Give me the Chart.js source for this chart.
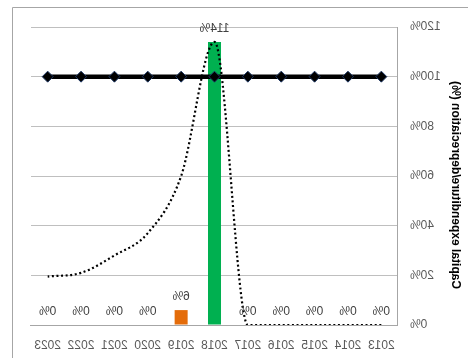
<!DOCTYPE html>
<html>
<head>
<meta charset="utf-8">
<script src="https://cdn.jsdelivr.net/npm/chart.js@4/dist/chart.umd.min.js"></script>
<style>
  html, body { margin: 0; padding: 0; background: #ffffff; }
  #wrap { position: relative; width: 468px; height: 358px; }
  #c { transform: scaleX(-1); }
</style>
</head>
<body>
<div id="wrap"><canvas id="c" width="468" height="358"></canvas></div>
<script>
// Data read from the (mirrored) reference picture
const years = ['2013','2014','2015','2016','2017','2018','2019','2020','2021','2022','2023'];
const capexBars = [0, 0, 0, 0, 0, 114, 6, 0, 0, 0, 0];
const barColors = ['#00B050','#00B050','#00B050','#00B050','#00B050','#00B050','#E46C0A','#E46C0A','#E46C0A','#E46C0A','#E46C0A'];
const dottedTrend = [0, 0, 0, 0, 0, 114, 60, 37, 28, 21, 19.5];
const reference100 = [100, 100, 100, 100, 100, 100, 100, 100, 100, 100, 100];
const yTicks = [0, 20, 40, 60, 80, 100, 120];
const yTitle = 'Capital expenditure/depreciation (%)';

const FONT = 'Liberation Sans, Arial, sans-serif';

const framePlugin = {
  id: 'frame',
  beforeDraw(chart) {
    const ctx = chart.ctx;
    ctx.save();
    ctx.strokeStyle = '#a6a6a6';
    ctx.lineWidth = 1;
    ctx.beginPath();
    ctx.moveTo(0, 7.5);
    ctx.lineTo(455.5, 7.5);
    ctx.lineTo(455.5, chart.height);
    ctx.stroke();
    ctx.restore();
  },
  afterDraw(chart) {
    // y-axis title, centred slightly below the plot's middle as in the reference
    const ctx = chart.ctx;
    const area = chart.chartArea;
    ctx.save();
    ctx.font = 'bold 12px ' + FONT;
    ctx.fillStyle = '#000000';
    ctx.textAlign = 'center';
    ctx.textBaseline = 'middle';
    ctx.translate(13, (area.top + area.bottom) / 2 + 9);
    ctx.rotate(-Math.PI / 2);
    ctx.fillText(yTitle, 0, 0);
    ctx.restore();
  }
};

const barLabelPlugin = {
  id: 'barLabels',
  afterDatasetsDraw(chart) {
    const idx = chart.data.datasets.findIndex(d => d.type === 'bar');
    const meta = chart.getDatasetMeta(idx);
    const ctx = chart.ctx;
    ctx.save();
    ctx.font = '12px ' + FONT;
    ctx.fillStyle = '#404040';
    ctx.textAlign = 'center';
    ctx.textBaseline = 'middle';
    meta.data.forEach((bar, i) => {
      const v = chart.data.datasets[idx].data[i];
      ctx.fillText(v + '%', bar.x, bar.y - 13);
    });
    ctx.restore();
  }
};

new Chart(document.getElementById('c'), {
  data: {
    labels: years,
    datasets: [
      {
        type: 'line',
        label: '100%',
        data: reference100,
        borderColor: '#000000',
        borderWidth: 4.5,
        pointStyle: 'rectRot',
        pointRadius: 5.5,
        pointBackgroundColor: '#000000',
        pointBorderColor: '#1f3864',
        pointBorderWidth: 1,
        order: 0
      },
      {
        type: 'line',
        label: 'Trend',
        data: dottedTrend,
        borderColor: '#000000',
        borderWidth: 2.2,
        borderDash: [2, 2.6],
        pointRadius: 0,
        cubicInterpolationMode: 'monotone',
        fill: false,
        order: 1
      },
      {
        type: 'bar',
        label: 'Capex',
        data: capexBars,
        backgroundColor: barColors,
        barPercentage: 0.39,
        categoryPercentage: 1,
        order: 2
      }
    ]
  },
  options: {
    responsive: false,
    animation: false,
    events: [],
    layout: { padding: { top: 27, right: 31, left: 0, bottom: 0 } },
    plugins: { legend: { display: false }, tooltip: { enabled: false } },
    scales: {
      x: {
        grid: { display: false, drawTicks: false },
        border: { display: true, color: '#a6a6a6' },
        ticks: { color: '#595959', font: { size: 12, family: FONT }, padding: 13, maxRotation: 0, autoSkip: false },
        afterFit(s) { s.height = 33; }
      },
      y: {
        min: 0, max: 120,
        afterBuildTicks(s) { s.ticks = yTicks.map(v => ({ value: v })); },
        grid: { color: '#bfbfbf', drawTicks: false },
        border: { display: true, color: '#a6a6a6' },
        ticks: { color: '#595959', font: { size: 12, family: FONT }, padding: 12, callback: v => v + '%' },
        title: { display: false },
        afterFit(s) { s.width = 70; }
      }
    }
  },
  plugins: [framePlugin, barLabelPlugin]
});
</script>
</body>
</html>
